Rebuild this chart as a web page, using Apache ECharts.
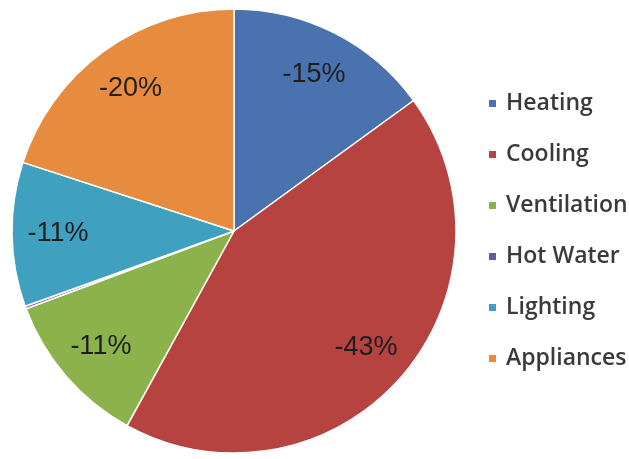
<!DOCTYPE html>
<html><head><meta charset="utf-8">
<script src="https://cdn.jsdelivr.net/npm/echarts@6/dist/echarts.min.js"></script>
<style>html,body{margin:0;padding:0;background:#fff}#c{width:629px;height:459px}</style>
</head><body><div id="c"></div>
<script>
const categories = ['Heating', 'Cooling', 'Ventilation', 'Hot Water', 'Lighting', 'Appliances'];
const values = [15, 43, 11.3, 0.2, 10.5, 20];
const labels = ['-15%', '-43%', '-11%', '', '-11%', '-20%'];
const colors = ['#4a72ae', '#b74341', '#8cb24b', '#6f57a0', '#40a0bf', '#e78c3e'];

const chart = echarts.init(document.getElementById('c'));
const data = categories.map((n, i) => ({ name: n, value: values[i], itemStyle: { color: colors[i] } }));
const center = [234, 231];
chart.setOption({
  animation: false,
  legend: {
    orient: 'vertical', left: 482, top: 86,
    icon: 'rect', itemWidth: 9, itemHeight: 9, itemGap: 26,
    textStyle: { fontFamily: 'Open Sans', fontSize: 23, fontWeight: 600, color: '#3a3a3a', lineHeight: 25, padding: [0, 0, 0, 4] },
    data: categories
  },
  series: [{
    type: 'pie', center: center, radius: [0, 222], startAngle: 90, clockwise: true,
    label: { show: false }, labelLine: { show: false },
    itemStyle: { borderColor: '#fff', borderWidth: 1.5 },
    data: data
  }, {
    type: 'pie', center: center, radius: [124, 222], startAngle: 90, clockwise: true,
    silent: true, legendHoverLink: false,
    itemStyle: { color: 'transparent', borderWidth: 0 },
    label: { show: true, position: 'inside', fontFamily: 'Liberation Sans', fontSize: 27, color: '#1e1e1e',
      formatter: p => labels[p.dataIndex] },
    labelLine: { show: false },
    data: categories.map((n, i) => ({ name: n, value: values[i] }))
  }]
});
</script></body></html>
